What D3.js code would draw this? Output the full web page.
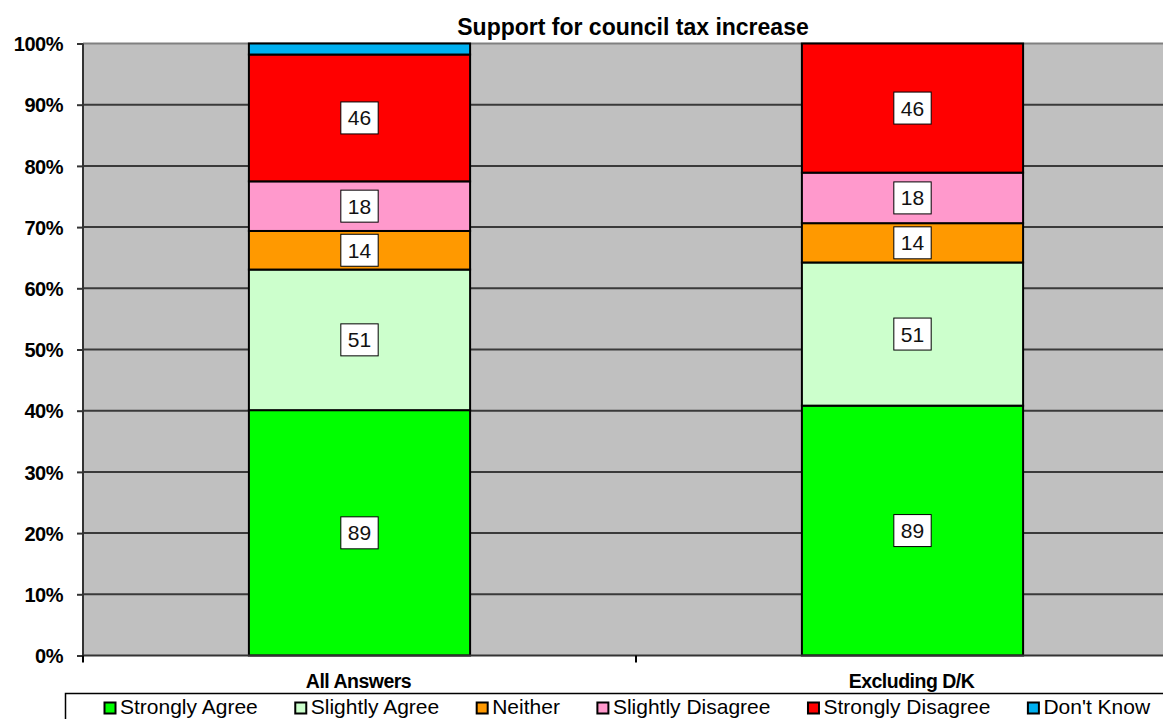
<!DOCTYPE html>
<html>
<head>
<meta charset="utf-8">
<script src="https://cdn.jsdelivr.net/npm/d3@7/dist/d3.min.js"></script>
<style>
  html, body { margin: 0; padding: 0; background: #fff; overflow: hidden; }
  svg { display: block; font-family: "Liberation Sans", Arial, sans-serif; }
</style>
</head>
<body>
<svg id="chart" width="1163" height="719"></svg>
<script>
// ---- Data ----
const title = "Support for council tax increase";
const categories = ["All Answers", "Excluding D/K"];
const seriesNames = ["Strongly Agree", "Slightly Agree", "Neither", "Slightly Disagree", "Strongly Disagree", "Don't Know"];
const allAnswers = [89, 51, 14, 18, 46, 4];
const excludingDK = [89, 51, 14, 18, 46, 0];
const seriesColors = ["#00FF00", "#CCFFCC", "#FF9900", "#FF99CC", "#FF0000", "#00B0F0"];
const yTickValues = [0, 0.1, 0.2, 0.3, 0.4, 0.5, 0.6, 0.7, 0.8, 0.9, 1.0];
const yTickLabels = ["0%", "10%", "20%", "30%", "40%", "50%", "60%", "70%", "80%", "90%", "100%"];

// ---- Build table ----
const table = categories.map((c, i) => {
  const row = { category: c };
  const vals = i === 0 ? allAnswers : excludingDK;
  seriesNames.forEach((s, j) => row[s] = vals[j]);
  return row;
});

const svg = d3.select("#chart");
const plotLeft = 83, plotRight = 1189, plotTop = 43.5, plotBottom = 655.5;

const x = d3.scaleBand().domain(categories).range([plotLeft, plotRight]).paddingInner(0.6).paddingOuter(0.3);
const y = d3.scaleLinear().domain([0, 1]).range([plotBottom, plotTop]);
const color = d3.scaleOrdinal().domain(seriesNames).range(seriesColors);

const stack = d3.stack().keys(seriesNames).offset(d3.stackOffsetExpand);
const stacked = stack(table);

// Plot background
svg.append("rect")
  .attr("x", plotLeft).attr("y", plotTop)
  .attr("width", plotRight - plotLeft).attr("height", plotBottom - plotTop)
  .attr("fill", "#C0C0C0");

// Gridlines
svg.append("g").selectAll("line")
  .data(yTickValues.slice(1))
  .join("line")
  .attr("x1", plotLeft).attr("x2", plotRight)
  .attr("y1", d => y(d)).attr("y2", d => y(d))
  .attr("stroke", d => d === 1 ? "#808080" : "#3a3a3a")
  .attr("stroke-width", 2);

// Bars
const layers = svg.append("g").selectAll("g")
  .data(stacked)
  .join("g")
  .attr("fill", d => color(d.key));

layers.selectAll("rect")
  .data(d => d.filter(s => s[1] - s[0] > 0))
  .join("rect")
  .attr("x", d => x(d.data.category))
  .attr("y", d => y(d[1]))
  .attr("width", x.bandwidth())
  .attr("height", d => y(d[0]) - y(d[1]))
  .attr("stroke", "#000")
  .attr("stroke-width", 2);

// Y axis
const yAxis = d3.axisLeft(y)
  .tickValues(yTickValues)
  .tickFormat((d, i) => yTickLabels[i])
  .tickSize(6)
  .tickPadding(14);
const yg = svg.append("g").attr("transform", `translate(${plotLeft},0)`).call(yAxis);
yg.select(".domain").attr("stroke", "#333").attr("stroke-width", 2).attr("d", `M0,${plotTop}V${plotBottom + 6}`);
yg.selectAll(".tick line").attr("stroke", "#333").attr("stroke-width", 2);
yg.selectAll(".tick text")
  .attr("font-size", 20).attr("font-weight", "bold").attr("fill", "#000")
  .attr("font-family", "'Liberation Sans', Arial, sans-serif")
  .attr("letter-spacing", "-0.5")
  .attr("dy", "0.36em");

// X axis
const xAxis = d3.axisBottom(x).tickSize(0).tickPadding(0).tickFormat("");
const xg = svg.append("g").attr("transform", `translate(0,${plotBottom})`).call(xAxis);
xg.select(".domain").attr("stroke", "#333").attr("stroke-width", 2).attr("d", `M${plotLeft},0H${plotRight}`);
// tick marks between categories
const step = x.step();
const boundaries = [plotLeft, plotLeft + step, plotLeft + 2 * step];
xg.selectAll(".sep").data(boundaries).join("line")
  .attr("class", "sep")
  .attr("x1", d => d).attr("x2", d => d)
  .attr("y1", 0).attr("y2", 7)
  .attr("stroke", "#000").attr("stroke-width", 2);
// category labels
svg.append("g").selectAll("text")
  .data(categories)
  .join("text")
  .attr("x", d => x(d) + x.bandwidth() / 2 - 1)
  .attr("y", 688)
  .attr("text-anchor", "middle")
  .attr("font-size", 19.5).attr("font-weight", "bold")
  .attr("letter-spacing", "-0.5")
  .text(d => d);

// Data labels
const labelG = svg.append("g");
stacked.forEach(layer => {
  layer.forEach(seg => {
    const share = seg[1] - seg[0];
    if (share < 0.03) return;
    const cx = x(seg.data.category) + x.bandwidth() / 2;
    const cy = (y(seg[0]) + y(seg[1])) / 2;
    const g = labelG.append("g");
    const rect = g.append("rect").attr("fill", "#fff").attr("stroke", "#000").attr("stroke-width", 1);
    const t = g.append("text")
      .attr("x", cx).attr("y", cy)
      .attr("dy", "0.36em")
      .attr("text-anchor", "middle")
      .attr("font-size", 21)
      .attr("fill", "#111")
      .text(seg.data[layer.key]);
    const w = t.node().getComputedTextLength() + 14;
    rect.attr("x", cx - w / 2).attr("y", cy - 16).attr("width", w).attr("height", 32);
  });
});

// Title
svg.append("text")
  .attr("x", 633).attr("y", 35)
  .attr("text-anchor", "middle")
  .attr("font-size", 23).attr("font-weight", "bold")
  .text(title);

// Legend
svg.append("rect")
  .attr("x", 65.5).attr("y", 693.5)
  .attr("width", 1120).attr("height", 60)
  .attr("fill", "#fff").attr("stroke", "#000").attr("stroke-width", 1.5);

const legend = svg.append("g");
let lx = 104;
seriesNames.forEach((s, i) => {
  legend.append("rect")
    .attr("x", lx + 0.5).attr("y", 702.5)
    .attr("width", 11).attr("height", 11)
    .attr("fill", color(s)).attr("stroke", "#000").attr("stroke-width", 2);
  const t = legend.append("text")
    .attr("x", lx + 16).attr("y", 714)
    .attr("font-size", 21).attr("fill", "#000")
    .text(s);
  lx += 16 + t.node().getComputedTextLength() + 37;
});
</script>
</body>
</html>
